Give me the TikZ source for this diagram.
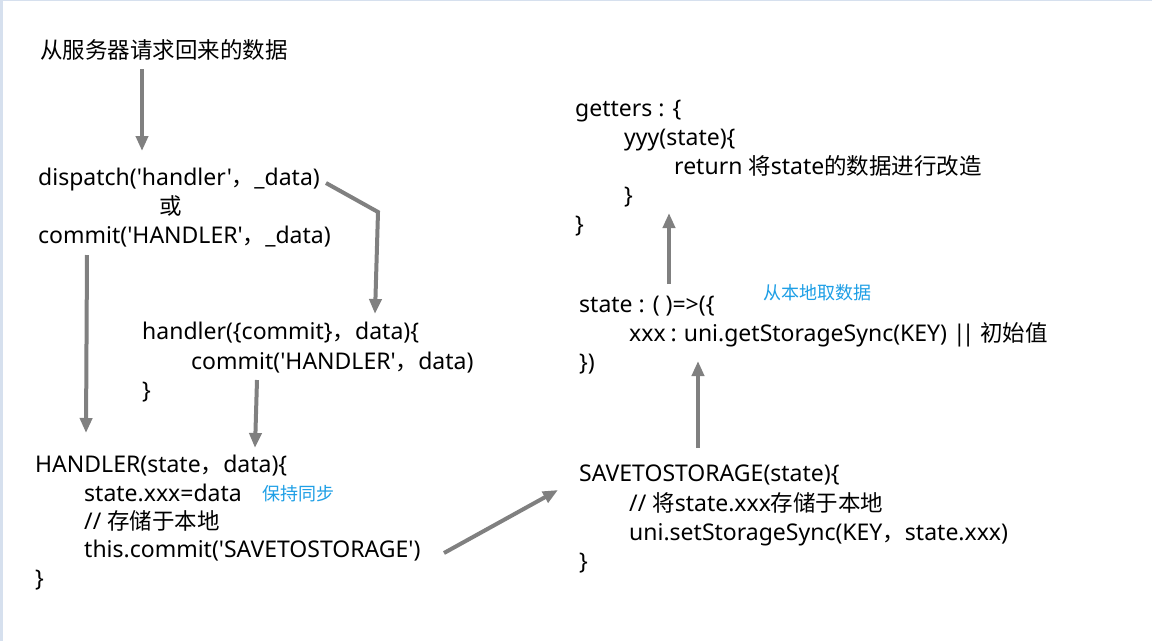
\documentclass[tikz,border=0pt]{standalone}
\usepackage{fontspec}
\newfontfamily\lat{Noto Sans}
\newfontfamily\cjk{Noto Sans CJK SC}
\newcommand{\zh}[1]{{\cjk\fontsize{22.5}{27}\selectfont #1}}
\usetikzlibrary{arrows.meta}
\definecolor{arrowgray}{HTML}{808080}
\definecolor{noteblue}{HTML}{1E9FE6}
\definecolor{edgeblue}{HTML}{D6E0EE}
\begin{document}
\begin{tikzpicture}[x=1pt,y=-1pt,
  code/.style={anchor=west,inner sep=0pt,font=\lat\fontsize{23}{28}\selectfont,text height=16.3pt,text depth=0pt},
  note/.style={anchor=west,inner sep=0pt,font=\cjk\fontsize{18}{21}\selectfont,text=noteblue,text height=13.5pt,text depth=0pt},
  flow/.style={draw=arrowgray,line width=4pt,-{Triangle[length=15pt,width=12pt]}}]
\useasboundingbox (0,0) rectangle (1152,641);
\fill[white] (0,0) rectangle (1152,641);
\fill[edgeblue] (0,0) rectangle (2.5,641);
\fill[edgeblue] (0,0) rectangle (1152,1.2);

% source
\node[code] (src) at (40,50) {\zh{从服务器请求回来的数据}};

% dispatch block
\node[code] (disp) at (38,177) {dispatch('handler'\zh{，}\_data)};
\node[code] (or) at (159,206) {\zh{或}};
\node[code] (comm) at (38,235) {commit('HANDLER'\zh{，}\_data)};

% action handler
\node[code] (act1) at (142,331) {handler(\{commit\}\zh{，}data)\{};
\node[code] (act2) at (191,361) {commit('HANDLER'\zh{，}data)};
\node[code] (act3) at (142,390) {\}};

% mutation HANDLER
\node[code] (mut1) at (35,464) {HANDLER(state\zh{，}data)\{};
\node[code] (mut2) at (84,493) {state.xxx=data};
\node[note] (sync) at (262,494) {保持同步};
\node[code] (mut3) at (84,521) {// \zh{存储于本地}};
\node[code] (mut4) at (84,549) {this.commit('SAVETOSTORAGE')};
\node[code] (mut5) at (35,578) {\}};

% SAVETOSTORAGE
\node[code] (sav1) at (579,473) {SAVETOSTORAGE(state)\{};
\node[code] (sav2) at (629,503) {// \zh{将}state.xxx\zh{存储于本地}};
\node[code] (sav3) at (629,532) {uni.setStorageSync(KEY\zh{，}state.xxx)};
\node[code] (sav4) at (579,561) {\}};

% state
\node[code] (st1) at (579,304) {state : ( )=>(\{};
\node[note] (load) at (763,293) {从本地取数据};
\node[code] (st2) at (629,333) {xxx\kern-1pt{} :\kern-1pt{} uni.getStorageSync(KEY) |\kern-4pt| \zh{初始值}};
\node[code] (st3) at (579,362) {\})};

% getters
\node[code] (g1) at (575,108) {getters : \{};
\node[code] (g2) at (624,137) {yyy(state)\{};
\node[code] (g3) at (674,166) {return \zh{将}state\zh{的数据进行改造}};
\node[code] (g4) at (624,195) {\}};
\node[code] (g5) at (575,224) {\}};

% arrow end points
\coordinate (a1s) at (142,69);   \coordinate (a1e) at (142,151);
\coordinate (a2s) at (326,183);  \coordinate (a2m) at (378,212); \coordinate (a2e) at (375,314);
\coordinate (a3s) at (87,255);   \coordinate (a3e) at (86,433);
\coordinate (a4s) at (257,380);  \coordinate (a4e) at (255,448);
\coordinate (a5s) at (444,553);  \coordinate (a5e) at (558,490);
\coordinate (a6s) at (698,448);  \coordinate (a6e) at (698,361);
\coordinate (a7s) at (669,284);  \coordinate (a7e) at (669,213);

\draw[flow] (a1s) -- (a1e);
\draw[flow,line join=miter] (a2s) -- (a2m) -- (a2e);
\draw[flow] (a3s) -- (a3e);
\draw[flow] (a4s) -- (a4e);
\draw[flow] (a5s) -- (a5e);
\draw[flow] (a6s) -- (a6e);
\draw[flow] (a7s) -- (a7e);
\end{tikzpicture}
\end{document}
